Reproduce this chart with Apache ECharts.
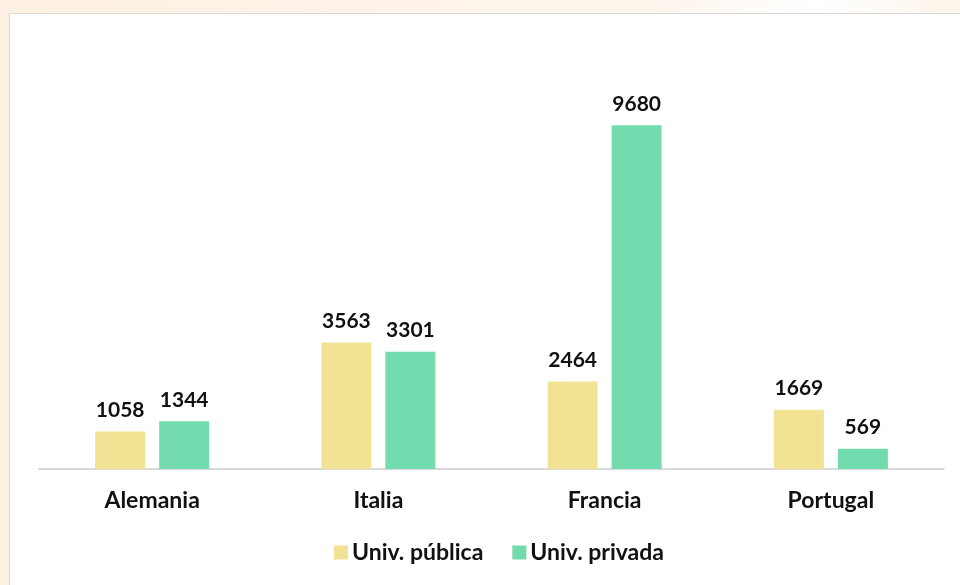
<!DOCTYPE html>
<html>
<head>
<meta charset="utf-8">
<script src="https://cdn.jsdelivr.net/npm/echarts@6/dist/echarts.min.js"></script>
<style>
    html, body {
        margin: 0;
        padding: 0;
        width: 960px;
        height: 585px;
        overflow: hidden;
        background: linear-gradient(90deg, #fdf0e2 0%, #fdf3e8 40%, #fef6ee 70%, #ffffff 85%, #fdf4ea 100%);
    }
    .panel {
        position: absolute;
        left: 9px;
        top: 13px;
        width: 960px;
        height: 580px;
        background: #ffffff;
        border: 1px solid #d9d9d9;
    }
    .echarts {
        position: absolute;
        left: 0;
        top: 0;
        width: 960px;
        height: 585px;
    }
</style>
</head>
<body>
<div class="panel"></div>
<div id="main" class="echarts"></div>
<script>
const categories = ['Alemania', 'Italia', 'Francia', 'Portugal']
const publica = [1058, 3563, 2464, 1669]
const privada = [1344, 3301, 9680, 569]
const seriesNames = ['Univ. pública', 'Univ. privada']

let colors = ['#f2e394', '#72dcae']
let font = 'Lato, "Open Sans", sans-serif'

let labelStyle = {
    show: true,
    position: 'top',
    distance: 11,
    fontSize: 21,
    fontWeight: 'bold',
    fontFamily: font,
    color: '#111111'
}

let option = {
    animation: false,
    textStyle: { fontFamily: font },
    legend: {
        bottom: 16,
        left: 329,
        itemWidth: 14,
        itemHeight: 14,
        itemGap: 29,
        icon: 'rect',
        data: seriesNames,
        textStyle: {
            fontSize: 23,
            fontWeight: 'bold',
            color: '#111111',
            padding: [0, 0, 0, -1]
        }
    },
    grid: {
        left: 39,
        right: 16,
        top: 114,
        bottom: 116
    },
    xAxis: {
        type: 'category',
        data: categories,
        axisLine: {
            show: true,
            lineStyle: { color: '#d9d9d9', width: 2 }
        },
        axisTick: { show: false },
        axisLabel: {
            margin: 20,
            fontSize: 23,
            fontWeight: 'bold',
            color: '#111111'
        }
    },
    yAxis: {
        type: 'value',
        min: 0,
        max: 10000,
        show: false,
        splitLine: { show: false }
    },
    series: [
        {
            name: seriesNames[0],
            type: 'bar',
            data: publica,
            barWidth: 50,
            barGap: '28%',
            itemStyle: { color: colors[0] },
            label: labelStyle
        },
        {
            name: seriesNames[1],
            type: 'bar',
            data: privada,
            barWidth: 50,
            itemStyle: { color: colors[1] },
            label: labelStyle
        }
    ]
}

let myChart = echarts.init(document.getElementById('main'))
myChart.setOption(option)
</script>
</body>
</html>
